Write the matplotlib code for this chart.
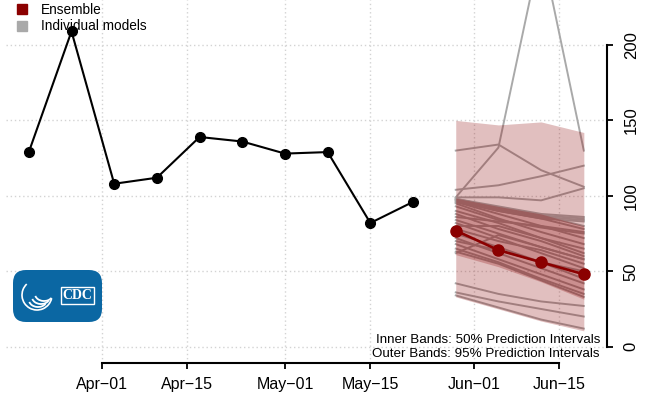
import numpy as np
import matplotlib
matplotlib.use('Agg')
import matplotlib.pyplot as plt
import matplotlib.dates as mdates
from matplotlib.patches import Patch, FancyBboxPatch, Rectangle, Arc

plt.rcParams['font.family'] = ['Liberation Sans', 'DejaVu Sans']

# observed weekly values
obs_dates = ['2021-03-20', '2021-03-27', '2021-04-03', '2021-04-10', '2021-04-17',
             '2021-04-24', '2021-05-01', '2021-05-08', '2021-05-15', '2021-05-22']
obs_vals = [129, 209, 108, 112, 139, 136, 128, 129, 82, 96]

# forecasts
fc_dates = ['2021-05-29', '2021-06-05', '2021-06-12', '2021-06-19']
ens_vals = [77, 64, 56, 48]
lo95 = [33, 25, 17, 10.5]
hi95 = [150, 147, 149, 142]
lo50 = [61, 53, 43, 31.5]
hi50 = [98.5, 93, 88, 80]

model_vals = [
    [130, 134, 117, 106],
    [99, 132, 265, 130],
    [104, 107, 113, 120],
    [99, 99, 97, 105],
    [98, 93, 88, 86],
    [98, 92, 87, 85],
    [97, 91, 86, 84],
    [96, 90, 85, 83],
    [98, 92, 87, 80],
    [97, 90, 85, 78],
    [96, 88, 80, 72],
    [95, 85, 76, 68],
    [93, 84, 79, 75],
    [90, 82, 72, 65],
    [88, 78, 70, 60],
    [86, 83, 80, 76],
    [84, 75, 66, 58],
    [82, 72, 62, 52],
    [80, 80, 72, 62],
    [78, 70, 64, 55],
    [75, 66, 56, 45],
    [72, 62, 52, 42],
    [70, 64, 56, 50],
    [68, 58, 48, 38],
    [65, 56, 45, 35],
    [63, 55, 44, 33],
    [62, 74, 66, 58],
    [42, 35, 30, 27],
    [36, 30, 25, 20],
    [34, 26, 18, 12],
]

tick_dates = ['2021-04-01', '2021-04-15', '2021-05-01', '2021-05-15', '2021-06-01', '2021-06-15']
tick_labels = ['Apr\u221201', 'Apr\u221215', 'May\u221201', 'May\u221215', 'Jun\u221201', 'Jun\u221215']
y_ticks = [0, 50, 100, 150, 200]

to_num = lambda d: mdates.date2num(np.array(d, dtype='datetime64[D]'))
xo = to_num(obs_dates)
xf = to_num(fc_dates)
xt = to_num(tick_dates)

W, H = 647, 398
fig = plt.figure(figsize=(W / 100, H / 100), dpi=100)
ax = fig.add_axes([6 / W, (H - 363) / H, (607 - 6) / W, 363 / H])

darkred = '#8B0000'
for mv in model_vals:
    ax.plot(xf, mv, color='#a9a9a9', lw=1.4, zorder=2)
ax.fill_between(xf, lo95, hi95, color=darkred, alpha=0.25, lw=0, zorder=3)
ax.fill_between(xf, lo50, hi50, color=darkred, alpha=0.25, lw=0, zorder=3)
ax.plot(xf, ens_vals, color=darkred, lw=1.9, marker='o', ms=8, zorder=5)
ax.plot(xo, obs_vals, color='black', lw=1.5, marker='o', ms=7, zorder=5)

x0 = xt[0]
ax.set_xlim(x0 - 15.74, x0 + 82.8)
ax.set_ylim(-10.8, 229.8)

ax.set_xticks(xt)
ax.set_xticklabels(tick_labels, fontsize=11.5)
ax.set_yticks(y_ticks)
ax.set_yticklabels([str(v) for v in y_ticks], fontsize=12, rotation=90, va='center')
ax.yaxis.tick_right()
ax.tick_params(axis='x', length=4, width=1.3, pad=6)
ax.tick_params(axis='y', length=4, width=1.3, pad=8)

for s in ['top', 'left']:
    ax.spines[s].set_visible(False)
ax.spines['right'].set_bounds(0, 200)
ax.spines['right'].set_linewidth(1.5)
ax.spines['bottom'].set_bounds(xt[0], xt[-1])
ax.spines['bottom'].set_linewidth(1.5)

ax.grid(True, color='lightgray', linestyle=(0, (1, 2)), lw=1)
ax.set_axisbelow(True)

leg = ax.legend(handles=[Patch(color=darkred, label='Ensemble'),
                         Patch(color='#a9a9a9', label='Individual models')],
                loc='upper left', bbox_to_anchor=(17 / W, 1 - 3 / H), bbox_transform=fig.transFigure,
                frameon=False, fontsize=9.8, handlelength=0.75, handleheight=0.75,
                handletextpad=1.0, labelspacing=0.18, borderpad=0.0, borderaxespad=0.0)

fig.text(600 / W, 1 - 340 / H, 'Inner Bands: 50% Prediction Intervals', ha='right', va='center', fontsize=9.6)
fig.text(600 / W, 1 - 354 / H, 'Outer Bands: 95% Prediction Intervals', ha='right', va='center', fontsize=9.6)

# CDC logo
cdc_blue = '#0b67a3'
logo = FancyBboxPatch((13 / W, 1 - 322 / H), 89 / W, 52 / H,
                      boxstyle='round,pad=0,rounding_size=0.02', transform=fig.transFigure,
                      facecolor=cdc_blue, edgecolor='none', mutation_aspect=W / H)
fig.patches.append(logo)
ring = Arc((37 / W, 1 - 295 / H), 30 / W, 30 / H, theta1=120, theta2=340,
           transform=fig.transFigure, color='white', lw=1.2)
fig.patches.append(ring)
for k in range(3):
    sw = Arc(((38 + 3 * k) / W, 1 - (300 - 3 * k) / H), 18 / W, 14 / H, theta1=200, theta2=320,
             transform=fig.transFigure, color='white', lw=1.3)
    fig.patches.append(sw)
box = Rectangle((61 / W, 1 - 304 / H), 33 / W, 17 / H, transform=fig.transFigure,
                facecolor='none', edgecolor='white', lw=1)
fig.patches.append(box)
fig.text(77.5 / W, 1 - 295.5 / H, 'CDC', ha='center', va='center', color='white',
         fontsize=10, fontweight='bold', family='Liberation Serif')

fig.savefig('out.png', dpi=100)
